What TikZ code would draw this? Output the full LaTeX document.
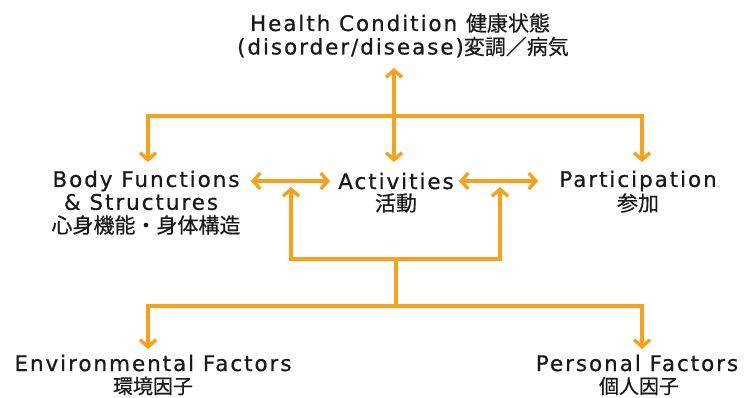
\documentclass[tikz,border=0pt]{standalone}
\usepackage{fontspec}
\setmainfont{DejaVu Sans}
\newfontfamily\ltf[LetterSpace=9,FakeBold=0.6]{DejaVu Sans}
\newfontfamily\jpf[FakeBold=0.4]{Noto Sans CJK JP}
\usetikzlibrary{arrows.meta,calc}
\definecolor{icfo}{RGB}{250,160,25}
\newcommand{\jpsz}{\jpf\fontsize{21}{22}\selectfont}
\tikzset{
  txt/.style={inner sep=0pt, outer sep=0pt, text=black!90, align=center,
    font=\ltf\fontsize{21.5}{22}\selectfont},
  jp/.style={inner sep=0pt, outer sep=0pt, text=black!90, align=center,
    font=\jpsz},
  ln/.style={draw=icfo, line width=3.4pt},
  tipb/.tip={Straight Barb[length=7pt,width=16pt]},
  arr/.style={ln, -tipb},
  dbl/.style={ln, tipb-tipb},
}
\begin{document}
\begin{tikzpicture}[x=1pt,y=-1pt]
\useasboundingbox[fill=white] (0,0) rectangle (747,397);
% top
\node[txt] (hc) at (400,23) {Health Condition {\jpsz 健康状態}};
\node[txt] (hc2) at (403,47) {(disorder/disease){\jpsz 変調／病気}};
% middle row
\node[txt] (bf) at (146,181) {Body Functions};
\node[txt] (bf2) at (141,202) {\& Structures};
\node[jp] (bf3) at (146,225) {心身機能・身体構造};
\node[txt] (act) at (396,181) {Activities};
\node[jp] (act2) at (396,203) {活動};
\node[txt] (par) at (638,181) {Participation};
\node[jp] (par2) at (638,203) {参加};
% bottom
\node[txt] (env) at (153,363) {Environmental Factors};
\node[jp, font=\jpf\fontsize{20}{20}\selectfont] (env2) at (153,386) {環境因子};
\node[txt] (pf) at (637,363) {Personal Factors};
\node[jp, font=\jpf\fontsize{20}{20}\selectfont] (pf2) at (639,386) {個人因子};
% junctions
\coordinate (top) at (394,116);
\coordinate (ht) at (394,68);
\coordinate (at) at (394,162);
\coordinate (bft) at (148,162);
\coordinate (pt) at (642,162);
\coordinate (m1) at (291,182);
\coordinate (m2) at (500,182);
\coordinate (br) at (396,259);
\coordinate (fork) at (396,306);
\coordinate (et) at (148,349);
\coordinate (pft) at (642,349);
% connectors
\draw[dbl] (ht) -- (at);
\draw[ln] (bft |- top) -- (pt |- top);
\draw[arr] (top) -| (bft);
\draw[arr] (top) -| (pt);
\draw[dbl] (bf.east -| 251,0) -- (act.west -| 330,0);
\draw[dbl] (act.east -| 459,0) -- (par.west -| 538,0);
\draw[arr] (br) -| ([yshift=-5pt]m1);
\draw[arr] (br) -| ([yshift=-5pt]m2);
\draw[ln] (br) -- (fork);
\draw[arr] (fork) -| (et);
\draw[arr] (fork) -| (pft);
\end{tikzpicture}
\end{document}
